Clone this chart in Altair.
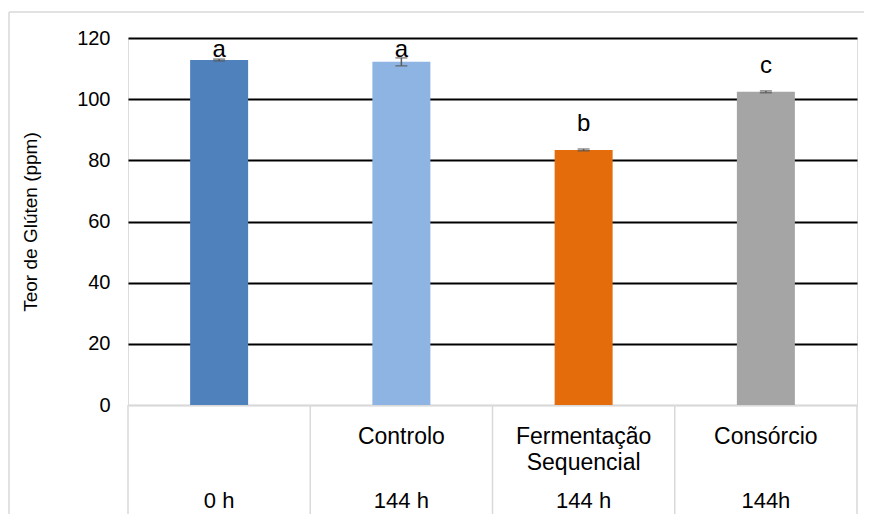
import altair as alt
import pandas as pd

categories = ["0h", "Controlo", "Fermentação Sequencial", "Consórcio"]
row1_labels = ["", "Controlo", "Fermentação\nSequencial", "Consórcio"]
row2_labels = ["0 h", "144 h", "144 h", "144h"]
values = [112.8, 112.2, 83.4, 102.4]
errors = [0.3, 1.3, 0.3, 0.3]
letters = ["a", "a", "b", "c"]
colors = ["#4F81BD", "#8DB4E2", "#E46C0A", "#A5A5A5"]

df = pd.DataFrame({
    "cat": categories,
    "r1": row1_labels,
    "r2": row2_labels,
    "value": values,
    "err": errors,
    "letter": letters,
})
df["lo"] = df["value"] - df["err"]
df["hi"] = df["value"] + df["err"]

W, H = 729, 367
FONT = "Liberation Sans"
GRID_GREY = "#d9d9d9"

xs = alt.X("cat:N", sort=categories,
           scale=alt.Scale(paddingInner=0, paddingOuter=0),
           axis=alt.Axis(labels=False, ticks=False, title=None,
                         domainColor=GRID_GREY, domainWidth=1.5))

base = alt.Chart(df)

bars = base.mark_bar(size=58).encode(
    x=xs,
    y=alt.Y("value:Q",
            scale=alt.Scale(domain=[0, 120], nice=False),
            axis=alt.Axis(values=[0, 20, 40, 60, 80, 100, 120],
                          title="Teor de Glúten (ppm)",
                          titleFont=FONT, titleFontSize=19, titleFontWeight="normal",
                          titleColor="black", titleX=-98, titleY=H / 2,
                          titleAngle=-90, titleAlign="center", titleBaseline="middle",
                          labelFont=FONT, labelFontSize=20, labelColor="black",
                          labelPadding=18, ticks=False, domain=False,
                          grid=True, gridWidth=2,
                          gridColor={"condition": {"test": "datum.value === 0", "value": GRID_GREY},
                                     "value": "black"})),
    color=alt.Color("cat:N", sort=categories,
                    scale=alt.Scale(domain=categories, range=colors), legend=None),
)

err_rule = base.mark_rule(color="#595959", strokeWidth=1.5).encode(
    x=alt.X("cat:N", sort=categories), y="lo:Q", y2="hi:Q")
cap_lo = base.mark_tick(color="#595959", thickness=1.5, size=12, orient="horizontal").encode(
    x=alt.X("cat:N", sort=categories), y="lo:Q")
cap_hi = base.mark_tick(color="#595959", thickness=1.5, size=12, orient="horizontal").encode(
    x=alt.X("cat:N", sort=categories), y="hi:Q")

letter_text = base.transform_calculate(
    ly="min(datum.value + 8.5, 116)"
).mark_text(font=FONT, fontSize=24, color="black", baseline="middle").encode(
    x=alt.X("cat:N", sort=categories), y="ly:Q", text="letter:N")

row1 = base.mark_text(font=FONT, fontSize=23, color="black", baseline="middle",
                      lineBreak="\n", lineHeight=26).encode(
    x=alt.X("cat:N", sort=categories), y=alt.value(H + 32), text="r1:N")
row2 = base.mark_text(font=FONT, fontSize=22, color="black", baseline="middle").encode(
    x=alt.X("cat:N", sort=categories), y=alt.value(H + 96), text="r2:N")

vlines = base.mark_rule(color=GRID_GREY, strokeWidth=1.5).encode(
    x=alt.X("cat:N", sort=categories, bandPosition=0),
    y=alt.value(H), y2=alt.value(H + 114))
vline_right = alt.Chart(df.head(1)).mark_rule(color=GRID_GREY, strokeWidth=1.5).encode(
    x=alt.value(W), y=alt.value(H), y2=alt.value(H + 114))

frame_left = alt.Chart(df.head(1)).mark_rule(color=GRID_GREY, strokeWidth=1.5).encode(
    x=alt.value(-119), y=alt.value(-26), y2=alt.value(H + 130))
frame_top = alt.Chart(df.head(1)).mark_rule(color=GRID_GREY, strokeWidth=1.5).encode(
    x=alt.value(-119), x2=alt.value(W + 40), y=alt.value(-26))

chart = alt.layer(
    bars, err_rule, cap_lo, cap_hi, letter_text, row1, row2,
    vlines, vline_right, frame_left, frame_top
).properties(
    width=W, height=H,
    autosize=alt.AutoSizeParams(type="none"),
    padding={"left": 120, "top": 30, "right": 7, "bottom": 109},
).configure_view(stroke=None).configure(background="white")

chart.save("out.html", embed_options={"renderer": "svg", "actions": False})
